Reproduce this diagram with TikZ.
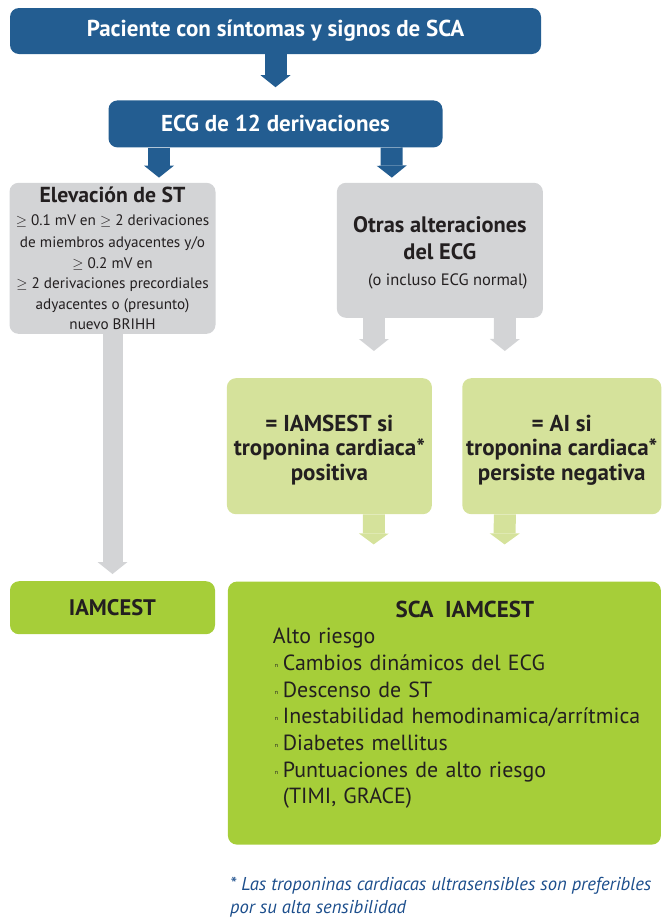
\documentclass[tikz,border=0pt]{standalone}
\usepackage{fontspec}
\setmainfont{PT Sans}
\usetikzlibrary{positioning}
\usetikzlibrary{arrows.meta}

\definecolor{scablue}{RGB}{35,93,145}
\definecolor{ecggrey}{RGB}{211,212,214}
\definecolor{palegreen}{RGB}{213,226,155}
\definecolor{scagreen}{RGB}{166,206,57}
\definecolor{inkblack}{RGB}{35,31,32}
\definecolor{noteblue}{RGB}{28,78,140}

\newcommand{\bigb}[1]{{\bfseries\fontsize{22.4}{26.5}\selectfont #1}}
\newcommand{\scabul}{\makebox[8pt][l]{\raisebox{3pt}{\fontsize{6}{6}\selectfont n}}}
\newcommand{\geqs}{\ensuremath{\geq}}

\begin{document}
\begin{tikzpicture}[x=1pt,y=-1pt]
\tikzstyle{blue box}=[rectangle,rounded corners=9pt,fill=scablue,text=white,inner sep=0,font=\bfseries\fontsize{23}{26}\selectfont]
\tikzstyle{grey box}=[rectangle,rounded corners=9pt,fill=ecggrey,text=inkblack,inner sep=0,align=center]
\tikzstyle{pale box}=[rectangle,rounded corners=9pt,fill=palegreen,text=inkblack,inner sep=0,align=center,font=\bfseries\fontsize{23}{24.5}\selectfont]
\tikzstyle{green box}=[rectangle,rounded corners=9pt,fill=scagreen,text=inkblack,inner sep=0]
\tikzset{
  blue arrow/.style = {draw=scablue, line width=22pt, -{Triangle[length=12pt,width=30pt,line width=0pt]}},
  grey arrow/.style = {draw=ecggrey, line width=22pt, -{Triangle[length=12pt,width=30pt,line width=0pt]}},
  pale arrow/.style = {draw=palegreen, line width=22pt, -{Triangle[length=11pt,width=30pt,line width=0pt]}},
  note text/.style = {text=noteblue, inner sep=0, align=left, font=\itshape\fontsize{18.6}{23}\selectfont}
}
\useasboundingbox (0,0) rectangle (662,919);

    \node[blue box, minimum width=531pt, minimum height=46pt] (paciente) at (275.5,31) {Paciente con síntomas y signos de SCA};
    \node[blue box, minimum width=334pt, minimum height=47pt] (ecg) [below=46pt of paciente] {ECG de 12 derivaciones};
    \node[grey box, minimum width=206pt, minimum height=151pt, font=\fontsize{15.2}{20.5}\selectfont] (elev) [below=35pt of ecg, xshift=-163pt]
        {{\bfseries\fontsize{21.7}{24}\selectfont Elevación de ST}\\[3pt]
         \geqs{} 0.1 mV en \geqs{} 2 derivaciones\\[1.5pt]
         de miembros adyacentes y/o\\
         \geqs{} 0.2 mV en\\
         \geqs{} 2 derivaciones precordiales\\
         adyacentes o (presunto)\\
         nuevo BRIHH};
    \node[grey box, minimum width=206pt, minimum height=135pt, font=\fontsize{16.5}{26.5}\selectfont] (otras) [right=121pt of elev.north east, anchor=north west]
        {\rule{0pt}{22pt}\bigb{Otras alteraciones}\\ \bigb{del ECG}\\ \hspace*{16pt}(o incluso ECG normal)};
    %%%%%%%%%%%%%%%%%%%%%%%%%%%%%%%%%%%%%%%%%%
    \node[pale box, minimum width=205pt, minimum height=136pt] (iamsest) [below=60pt of otras, xshift=-110.5pt]
        {\rule{0pt}{24pt}= IAMSEST si\\troponina cardiaca*\\positiva};
    \node[pale box, minimum width=199pt, minimum height=136pt] (ai) [right=30pt of iamsest]
        {\rule{0pt}{24pt}= AI si\\troponina cardiaca*\\persiste negativa};
    \node[green box, minimum width=205pt, minimum height=53pt, font=\bfseries\fontsize{22.5}{24}\selectfont] (iamcest) [below=247pt of elev] {IAMCEST};
    \node[green box, minimum width=433pt, minimum height=263pt] (sca) [below=67pt of iamsest.south west, anchor=north west, xshift=1pt] {};
    \node[inner sep=0, text width=384pt, align=left, text=inkblack, font=\fontsize{21.9}{26.7}\selectfont] (scatext) [below right=19pt and 45pt of sca.north west]
        {{\centering\bfseries\fontsize{23}{25}\selectfont SCA\hspace{0.5em}IAMCEST\par}
         Alto riesgo\\
         \hspace*{2pt}\scabul Cambios dinámicos del ECG\\
         \hspace*{2pt}\scabul Descenso de ST\\
         \hspace*{2pt}\scabul Inestabilidad hemodinamica/arrítmica\\
         \hspace*{2pt}\scabul Diabetes mellitus\\
         \hspace*{2pt}\scabul Puntuaciones de alto riesgo\\
         \hspace*{10pt}(TIMI, GRACE)};
    \node[note text, anchor=north west] (nota) at (230,877)
        {* Las troponinas cardiacas ultrasensibles son preferibles\\por su alta sensibilidad};

    \path
        (paciente) edge[blue arrow, shorten >=13pt] (ecg)
        ([xshift=-116.5pt]ecg.south) edge[blue arrow, shorten >=5pt] ([xshift=46.5pt]elev.north)
        ([xshift=116pt]ecg.south) edge[blue arrow, shorten >=5pt] ([xshift=-48pt]otras.north)
        (elev) edge[grey arrow, line width=20pt, shorten >=7pt] (iamcest)
        ([xshift=-66pt]otras.south) edge[grey arrow, shorten >=27pt] ([xshift=44.5pt]iamsest.north)
        ([xshift=65pt]otras.south) edge[grey arrow, shorten >=27pt] ([xshift=-57pt]ai.north)
        ([xshift=44.5pt]iamsest.south) edge[pale arrow, shorten >=37pt] ([xshift=-71pt]sca.north)
        ([xshift=-57pt]ai.south) edge[pale arrow, shorten >=37pt] ([xshift=60pt]sca.north)
;
\end{tikzpicture}
\end{document}
